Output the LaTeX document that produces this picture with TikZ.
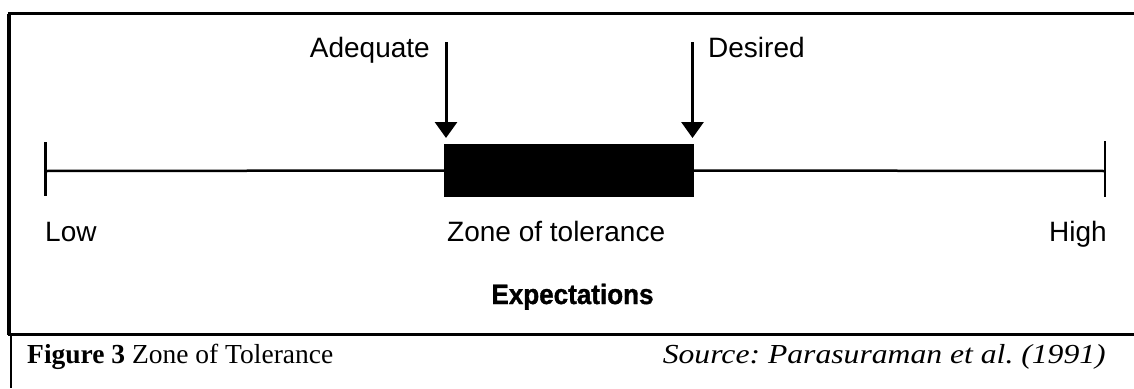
\documentclass[tikz,border=0pt]{standalone}
\usepackage{fontspec}
\setmainfont{Liberation Serif}
\newfontfamily\labelfont{Liberation Sans}
\newfontfamily\headfont[FakeStretch=0.93,FakeBold=1.2]{Liberation Sans Bold}
\usetikzlibrary{arrows.meta}
\frenchspacing
\begin{document}
\begin{tikzpicture}[x=1pt,y=-1pt,
  lbl/.style={inner sep=0pt, font=\labelfont\fontsize{28}{30}\selectfont},
  captext/.style={inner sep=0pt, font=\fontsize{27.5}{29}\selectfont},
  frameline/.style={line width=3pt, line cap=rect},
  axisline/.style={line width=2.5pt},
  pointer/.style={line width=3pt, -{Triangle[width=22pt,length=16pt]}}]
\useasboundingbox (0,0) rectangle (1134,388);
% frame
\coordinate (ftl) at (9,13.5);
\coordinate (ftr) at (1134,13.5);
\coordinate (fbl) at (9,334.5);
\coordinate (fbr) at (1134,334.5);
\coordinate (cbl) at (11,334.5);
\coordinate (cbb) at (11,388);
\draw[frameline] (ftr) -- (ftl);
\draw[line width=4pt] (ftl) -- (fbl);
\draw[frameline] (fbl) -- (fbr);
\draw[line width=2.5pt] (cbl) -- (cbb);
% axis
\coordinate (L) at (45.5,171);
\coordinate (R) at (1105,171);
\coordinate (Lt) at (45.5,142);
\coordinate (Lb) at (45.5,196);
\coordinate (Rt) at (1105,141);
\coordinate (Rb) at (1105,197);
\node[fill=black, inner sep=0pt, minimum width=250pt, minimum height=53pt] (zone) at (569,170.5) {};
\draw[axisline] (L) -- (zone.west);
\draw[axisline] (zone.east) -- (R);
\draw[axisline] (Lt) -- (Lb);
\draw[axisline] (Rt) -- (Rb);
% arrows
\coordinate (as) at (446,42);
\coordinate (ae) at (446,138);
\coordinate (ds) at (692.5,42);
\coordinate (de) at (692.5,138);
\draw[pointer] (as) -- (ae);
\draw[pointer] (ds) -- (de);
% labels
\node[lbl, anchor=base east] (adequate) at (430,57) {Adequate};
\node[lbl, anchor=base west] (desired) at (708,57) {Desired};
\node[lbl, anchor=base west] (low) at (45,241) {Low};
\node[lbl, anchor=base west] (zonelbl) at (447,241) {Zone of tolerance};
\node[lbl, anchor=base east] (high) at (1107,241) {High};
\node[inner sep=0pt, anchor=base, font=\headfont\fontsize{28}{30}\selectfont] (expect) at (572.5,304) {Expectations};
% caption
\node[captext, anchor=base west] (figcap) at (27,363) {\textbf{Figure 3} Zone of Tolerance};
\node[captext, anchor=base east] (source) at (1106,363) {\resizebox{443pt}{\height}{\textit{Source: Parasuraman et al. (1991)}}};
\end{tikzpicture}
\end{document}
